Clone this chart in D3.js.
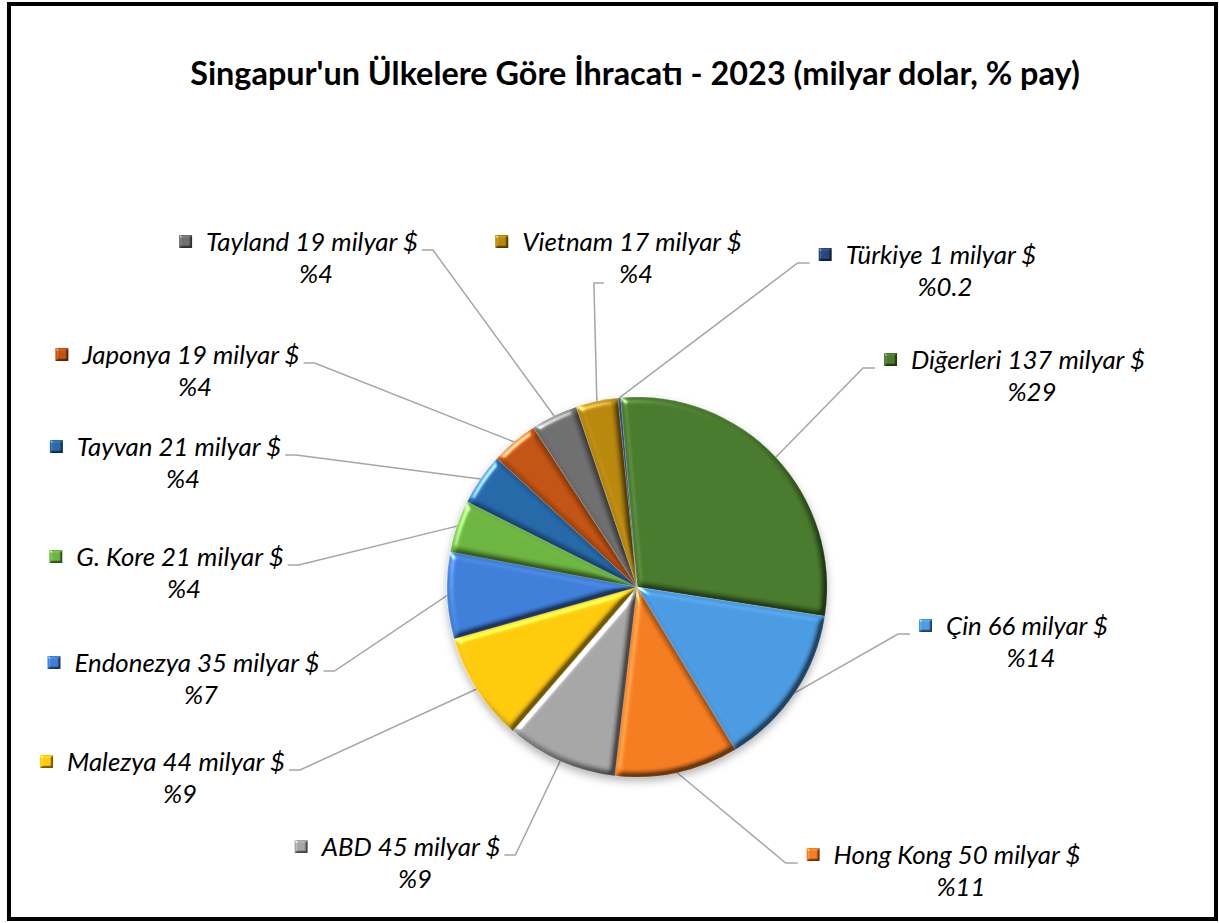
<!DOCTYPE html>
<html>
<head>
<meta charset="utf-8">
<script src="https://cdn.jsdelivr.net/npm/d3@7"></script>
<style>
  body { margin: 0; background: #fff; }
  svg { display: block; }
</style>
</head>
<body>
<svg></svg>
<script>
const countries = ['Diğerleri', 'Çin', 'Hong Kong', 'ABD', 'Malezya', 'Endonezya',
  'G. Kore', 'Tayvan', 'Japonya', 'Tayland', 'Vietnam', 'Türkiye'];
const values = [137, 66, 50, 45, 44, 35, 21, 21, 19, 19, 17, 1];
const shares = ['29', '14', '11', '9', '9', '7', '4', '4', '4', '4', '4', '0.2'];
const colors = ['#46772a', '#4898df', '#f27a1f', '#a3a3a3', '#ffc70c', '#3d7cd6',
  '#6ab23e', '#2466a6', '#bf500f', '#6b6b6b', '#b5850b', '#264478'];

// hand placed label boxes (text centre x, first line centre y, leader side)
const labelLayout = [
  { x: 1028, y: 360, side: 'right' },
  { x: 1027, y: 626, side: 'right' },
  { x: 957, y: 855, side: 'right' },
  { x: 411, y: 847, side: 'left' },
  { x: 176, y: 762, side: 'left' },
  { x: 197, y: 663, side: 'left' },
  { x: 180, y: 557, side: 'left' },
  { x: 179, y: 447, side: 'left' },
  { x: 191, y: 355, side: 'left' },
  { x: 312, y: 242, side: 'left' },
  { x: 632, y: 242, side: 'below' },
  { x: 941, y: 255, side: 'right' },
];

const width = 1219;
const height = 923;
const cx = 637;
const cy = 587;
const radius = 190;

const data = countries.map((c, i) => ({
  name: c, value: values[i], share: shares[i], color: colors[i], layout: labelLayout[i],
}));

const svg = d3.select('svg')
  .attr('width', width)
  .attr('height', height);

const defs = svg.append('defs');

// bevel look like the office charts
function makeBevel(id, blur, scale) {
  const f = defs.append('filter')
    .attr('id', id)
    .attr('x', '-5%').attr('y', '-5%').attr('width', '110%').attr('height', '110%')
    .attr('color-interpolation-filters', 'sRGB');
  f.append('feGaussianBlur')
    .attr('in', 'SourceAlpha').attr('stdDeviation', blur).attr('result', 'blur');
  f.append('feDiffuseLighting')
    .attr('in', 'blur').attr('surfaceScale', scale).attr('diffuseConstant', 2)
    .attr('lighting-color', '#fff').attr('result', 'diff')
    .append('feDistantLight').attr('azimuth', 225).attr('elevation', 30);
  f.append('feComposite')
    .attr('in', 'SourceGraphic').attr('in2', 'diff')
    .attr('operator', 'arithmetic').attr('k1', 0.55).attr('k2', 0.45).attr('result', 'shaded');
  f.append('feSpecularLighting')
    .attr('in', 'blur').attr('surfaceScale', scale).attr('specularConstant', 0.6)
    .attr('specularExponent', 25).attr('lighting-color', '#fff').attr('result', 'spec')
    .append('feDistantLight').attr('azimuth', 225).attr('elevation', 30);
  f.append('feComposite')
    .attr('in', 'spec').attr('in2', 'SourceAlpha').attr('operator', 'in').attr('result', 'specIn');
  f.append('feComposite')
    .attr('in', 'shaded').attr('in2', 'specIn')
    .attr('operator', 'arithmetic').attr('k2', 1).attr('k3', 1);
}
makeBevel('bevel', 3, 4);
makeBevel('bevelSmall', 1.3, 2);

const shadow = defs.append('filter')
  .attr('id', 'shadow')
  .attr('x', '-10%').attr('y', '-10%').attr('width', '120%').attr('height', '125%');
shadow.append('feDropShadow')
  .attr('dx', 0).attr('dy', 4).attr('stdDeviation', 4)
  .attr('flood-color', '#000').attr('flood-opacity', 0.3);

// frame
svg.append('rect')
  .attr('x', 9).attr('y', 4)
  .attr('width', 1207).attr('height', 915)
  .attr('fill', '#fff')
  .attr('stroke', '#000')
  .attr('stroke-width', 4);

const title = svg.append('text')
  .attr('x', 635)
  .attr('y', 85)
  .attr('text-anchor', 'middle')
  .attr('font-family', 'Lato, "Open Sans", sans-serif')
  .attr('font-weight', 'bold')
  .attr('font-size', 28)
  .attr('fill', '#000')
  .text("Singapur'un Ülkelere Göre İhracatı - 2023 (milyar dolar, % pay)");
// fit to the width it takes in the original
const tw = title.node().getComputedTextLength();
title.attr('font-size', 28 * 890 / tw);

const pie = d3.pie()
  .sort(null)
  .value((d) => d.value)
  .startAngle(-5 * Math.PI / 180)
  .endAngle(355 * Math.PI / 180);

const arcs = pie(data);

const arc = d3.arc()
  .innerRadius(0)
  .outerRadius(radius);

const leaderG = svg.append('g');

const pieG = svg.append('g')
  .attr('transform', `translate(${cx},${cy})`)
  .attr('filter', 'url(#shadow)');

pieG.selectAll('path')
  .data(arcs)
  .enter()
  .append('path')
    .attr('d', arc)
    .attr('fill', (d) => d.data.color)
    .attr('stroke', 'rgba(255,255,255,0.35)')
    .attr('stroke-width', 0.6)
    .attr('filter', 'url(#bevel)');

// labels
const fontFamily = 'Lato, "Open Sans", sans-serif';
let labelSize = 22;
const probe = svg.append('text')
  .attr('font-family', fontFamily)
  .attr('font-style', 'italic')
  .attr('font-size', labelSize)
  .text('Diğerleri 137 milyar $');
labelSize = labelSize * 234 / probe.node().getComputedTextLength();
probe.remove();

const labelG = svg.append('g');

arcs.forEach((a) => {
  const d = a.data;
  const L = d.layout;
  const g = labelG.append('g');

  const line1 = g.append('text')
    .attr('x', L.x)
    .attr('y', L.y)
    .attr('dy', '0.35em')
    .attr('text-anchor', 'middle')
    .attr('font-family', fontFamily)
    .attr('font-style', 'italic')
    .attr('font-size', labelSize)
    .attr('fill', '#000')
    .text(`${d.name} ${d.value} milyar $`);

  const line2 = g.append('text')
    .attr('x', L.x + 4)
    .attr('y', L.y + 32)
    .attr('dy', '0.35em')
    .attr('text-anchor', 'middle')
    .attr('font-family', fontFamily)
    .attr('font-style', 'italic')
    .attr('font-size', labelSize)
    .attr('fill', '#000')
    .text(`%${d.share}`);

  const w1 = line1.node().getComputedTextLength();
  const textLeft = L.x - w1 / 2;
  const textRight = L.x + w1 / 2;
  const markerX = textLeft - 27;

  g.append('rect')
    .attr('x', markerX)
    .attr('y', L.y - 7)
    .attr('width', 13)
    .attr('height', 13)
    .attr('fill', d.color)
    .attr('filter', 'url(#bevelSmall)');

  // leader line from slice rim to label
  const mid = (a.startAngle + a.endAngle) / 2;
  const sx = cx + radius * Math.sin(mid);
  const sy = cy - radius * Math.cos(mid);
  let pts;
  if (L.side === 'left') {
    const ly = L.y + 8;
    pts = [[sx, sy], [textRight + 15, ly], [textRight + 4, ly]];
  } else if (L.side === 'right') {
    const ly = L.y + 8;
    pts = [[sx, sy], [markerX - 21, ly], [markerX - 9, ly]];
  } else {
    const w2 = line2.node().getComputedTextLength();
    const px = L.x + 4 - w2 / 2 - 25;
    const ly = L.y + 41;
    pts = [[sx, sy], [px, ly], [px + 10, ly]];
  }

  leaderG.append('path')
    .attr('d', d3.line()(pts))
    .attr('fill', 'none')
    .attr('stroke', '#a6a6a6')
    .attr('stroke-width', 1.5);
});
</script>
</body>
</html>
